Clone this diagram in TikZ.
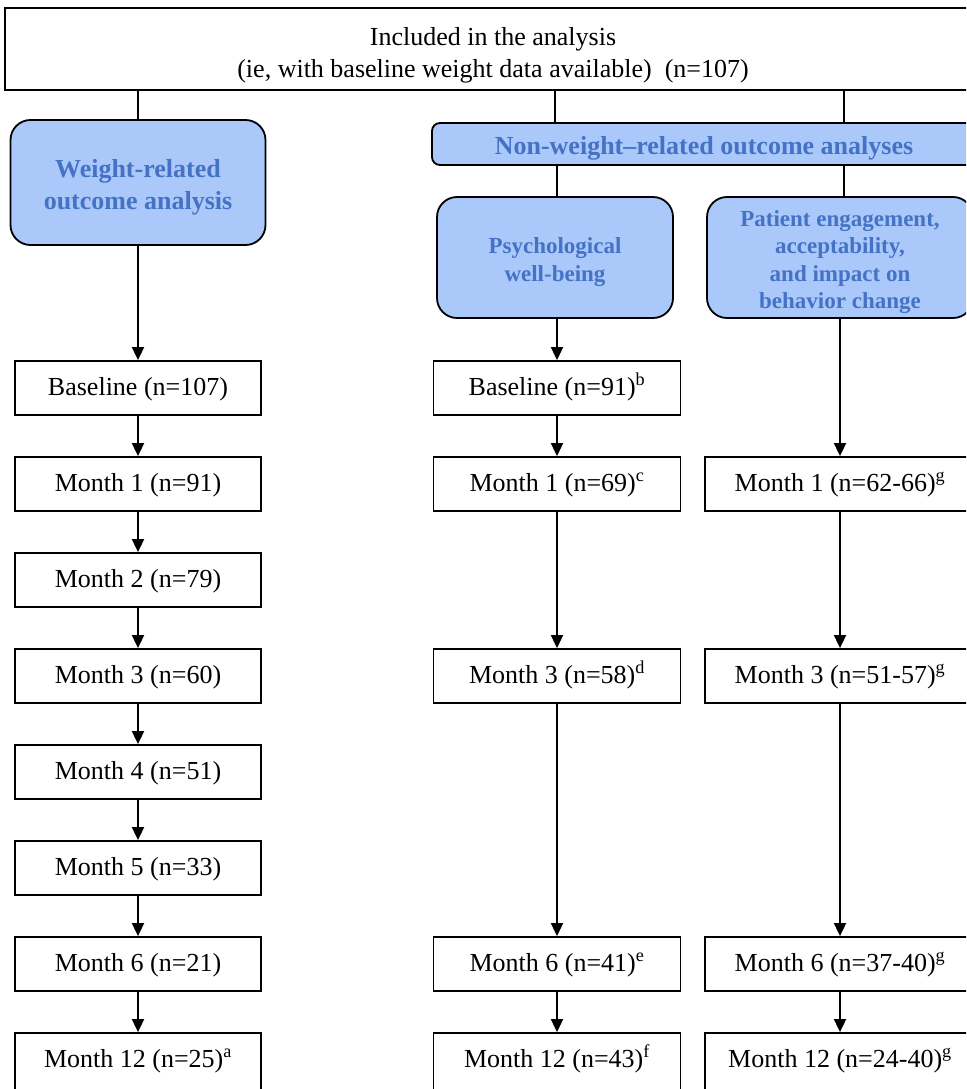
\documentclass[tikz,border=0pt]{standalone}
\usepackage{fontspec}
\setmainfont{Liberation Serif}
\usetikzlibrary{arrows.meta}
\definecolor{boxblue}{RGB}{170,200,250}
\definecolor{txtblue}{RGB}{68,114,196}
\newcommand{\bluetext}[2][4.5pt]{\raisebox{-#1}[\height][\depth]{\begin{tabular}{@{}c@{}}#2\end{tabular}}}
\begin{document}
\begin{tikzpicture}[x=1pt,y=-1pt,
  plain/.style={draw=black,line width=1.8pt,fill=white,minimum height=54pt,inner sep=0pt,text height=18pt,text depth=4pt,font=\fontsize{26}{32}\selectfont},
  lastrow/.style={plain,minimum height=70pt,text depth=20pt},
  bluebox/.style={draw=black,line width=1.8pt,fill=boxblue,rounded corners=20pt,inner sep=0pt,text=txtblue},
  bigblue/.style={bluebox,font=\bfseries\fontsize{26}{32}\selectfont},
  smallblue/.style={bluebox,font=\bfseries\fontsize{23}{27.5}\selectfont},
  conn/.style={line width=1.8pt},
  arr/.style={line width=1.8pt,-{Triangle[width=12pt,length=13pt]}}]
\useasboundingbox (0,0) rectangle (966,1089);
\clip (0,0) rectangle (966,1089);

% top
\node[draw=black,line width=1.8pt,minimum width=976pt,minimum height=82pt,inner sep=0pt,font=\fontsize{26}{32}\selectfont] (top) at (493,49) {\bluetext[6pt]{Included in the analysis\\(ie, with baseline weight data available)\ \ (n=107)}};

% blue headers
\node[bigblue,minimum width=255pt,minimum height=125pt] (weight) at (138,182.5) {\bluetext{Weight-related\\outcome analysis}};
\node[bigblue,rounded corners=8pt,minimum width=544pt,minimum height=42pt] (nw) at (704,144) {\bluetext{Non-weight–related outcome analyses}};
\node[smallblue,minimum width=236pt,minimum height=121pt] (psych) at (555,257.5) {\bluetext{Psychological\\well-being}};
\node[smallblue,minimum width=266pt,minimum height=121pt] (pat) at (840,257.5) {\bluetext{Patient engagement,\\acceptability,\\and impact on\\behavior change}};

\coordinate (rx) at (844,0);

% left column
\node[plain,minimum width=246pt] (l0) at (138,388) {Baseline (n=107)};
\node[plain,minimum width=246pt] (l1) at (138,484) {Month 1 (n=91)};
\node[plain,minimum width=246pt] (l2) at (138,580) {Month 2 (n=79)};
\node[plain,minimum width=246pt] (l3) at (138,676) {Month 3 (n=60)};
\node[plain,minimum width=246pt] (l4) at (138,772) {Month 4 (n=51)};
\node[plain,minimum width=246pt] (l5) at (138,868) {Month 5 (n=33)};
\node[plain,minimum width=246pt] (l6) at (138,964) {Month 6 (n=21)};
\node[lastrow,minimum width=246pt] (l12) at (138,1068) {Month 12 (n=25)\textsuperscript{a}};

% middle column
\node[plain,minimum width=247pt] (m0) at (557,388) {Baseline (n=91)\textsuperscript{b}};
\node[plain,minimum width=247pt] (m1) at (557,484) {Month 1 (n=69)\textsuperscript{c}};
\node[plain,minimum width=247pt] (m3) at (557,676) {Month 3 (n=58)\textsuperscript{d}};
\node[plain,minimum width=247pt] (m6) at (557,964) {Month 6 (n=41)\textsuperscript{e}};
\node[lastrow,minimum width=247pt] (m12) at (557,1068) {Month 12 (n=43)\textsuperscript{f}};

% right column
\node[plain,minimum width=270pt] (r1) at (840,484) {Month 1 (n=62-66)\textsuperscript{g}};
\node[plain,minimum width=270pt] (r3) at (840,676) {Month 3 (n=51-57)\textsuperscript{g}};
\node[plain,minimum width=270pt] (r6) at (840,964) {Month 6 (n=37-40)\textsuperscript{g}};
\node[lastrow,minimum width=270pt] (r12) at (840,1068) {Month 12 (n=24-40)\textsuperscript{g}};

% connectors from top
\draw[conn] (top.south -| weight.north) -- (weight.north);
\draw[conn] (top.south -| psych.north) -- (nw.north -| psych.north);
\draw[conn] (top.south -| rx) -- (nw.north -| rx);
\draw[conn] (nw.south -| m0.north) -- (psych.north -| m0.north);
\draw[conn] (nw.south -| rx) -- (pat.north -| rx);

% arrows
\draw[arr] (weight.south -| l0.north) -- (l0.north);
\draw[arr] (l0) -- (l1);
\draw[arr] (l1) -- (l2);
\draw[arr] (l2) -- (l3);
\draw[arr] (l3) -- (l4);
\draw[arr] (l4) -- (l5);
\draw[arr] (l5) -- (l6);
\draw[arr] (l6) -- (l12);

\draw[arr] (psych.south -| m0.north) -- (m0.north);
\draw[arr] (m0) -- (m1);
\draw[arr] (m1) -- (m3);
\draw[arr] (m3) -- (m6);
\draw[arr] (m6) -- (m12);

\draw[arr] (pat.south -| r1.north) -- (r1.north);
\draw[arr] (r1) -- (r3);
\draw[arr] (r3) -- (r6);
\draw[arr] (r6) -- (r12);
\end{tikzpicture}
\end{document}
